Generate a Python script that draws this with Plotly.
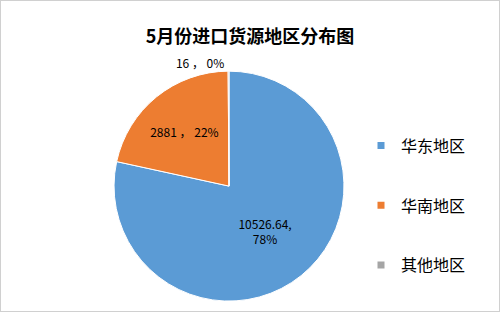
import plotly.graph_objects as go

regions = ["华东地区", "华南地区", "其他地区"]
values = [10526.64, 2881, 16]
label_texts = ["10526.64,<br>78%", "2881 ， 22%", "16 ， 0%"]
colors = ["#5B9BD5", "#ED7D31", "#A5A5A5"]

fig = go.Figure()
fig.add_trace(go.Pie(
    labels=regions, values=values, text=label_texts,
    textinfo="text", sort=False, direction="clockwise", rotation=0,
    marker=dict(colors=colors, line=dict(color="white", width=1)),
    textposition=["inside", "inside", "outside"],
    insidetextorientation="horizontal",
    textfont=dict(family="Noto Sans CJK SC", size=12, color="#000000"),
    domain=dict(x=[0.228, 0.688], y=[0.035, 0.772]),
    showlegend=False, hoverinfo="label+value+percent",
))
for name, col in zip(regions, colors):
    fig.add_trace(go.Scatter(
        x=[None], y=[None], mode="markers", name=name,
        marker=dict(symbol="square", size=7, color=col),
        legendgroup=name, showlegend=True,
    ))

fig.update_layout(
    width=500, height=312,
    margin=dict(l=0, r=0, t=0, b=0),
    paper_bgcolor="white", plot_bgcolor="white",
    title=dict(text="<b>5月份进口货源地区分布图</b>", x=0.5, xanchor="center",
               y=1 - 37/312, yanchor="middle",
               font=dict(family="Noto Sans CJK SC", size=18, color="#000000")),
    xaxis=dict(visible=False), yaxis=dict(visible=False),
    legend=dict(x=0.722, y=0.341, xanchor="left", yanchor="middle",
                font=dict(family="Noto Sans CJK SC", size=16, color="#000000"),
                tracegroupgap=36, itemwidth=30, bgcolor="rgba(0,0,0,0)"),
    shapes=[dict(type="rect", xref="paper", yref="paper", x0=0, y0=0, x1=1, y1=1,
                 line=dict(color="#D0D0D0", width=2))],
)

fig.write_html("out.html")
